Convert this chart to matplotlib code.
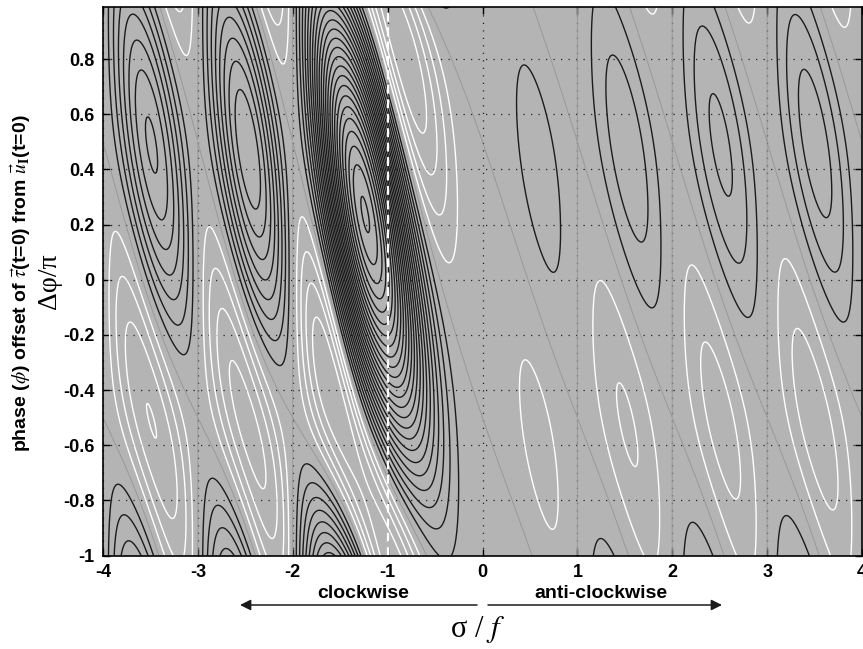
import numpy as np
import matplotlib.pyplot as plt

# axes: wind rotation frequency (units of f) and initial phase offset (units of pi)
sigma_lim = [-4, 4]
dphi_lim = [-1, 0.99]
sigma_ticks = [-4, -3, -2, -1, 0, 1, 2, 3, 4]
dphi_ticks = [-1, -0.8, -0.6, -0.4, -0.2, 0, 0.2, 0.4, 0.6, 0.8]

# model parameters: wind-driven / initial speed ratio and contour interval
speed_ratio = 0.4
contour_step = 0.2
resonance = -1.0

sigma = np.linspace(sigma_lim[0], sigma_lim[1], 1200)
dphi = np.linspace(dphi_lim[0], dphi_lim[1], 600)
S, P = np.meshgrid(sigma, dphi)

# relative energy change of the near-inertial current after one inertial period
w = -speed_ratio * S * np.sin(np.pi * S) / (S - resonance)
dE = 2 * w * np.cos(np.pi * (S + P)) + w ** 2

pos_levels = np.arange(contour_step, dE.max(), contour_step)
neg_levels = -np.arange(contour_step, -dE.min(), contour_step)[::-1]

fig = plt.figure(figsize=(8.63, 6.49), dpi=100)
ax = fig.add_axes([103 / 863, 1 - 555.5 / 649, 759 / 863, 548.8 / 649])
ax.set_facecolor('#b4b4b4')

ax.contour(S, P, dE, levels=[0], colors='#999999', linewidths=0.7)
ax.contour(S, P, dE, levels=neg_levels, colors='white', linewidths=1.0,
           linestyles='solid')
ax.contour(S, P, dE, levels=pos_levels, colors='#1c1c1c', linewidths=1.0,
           linestyles='solid')
ax.axvline(resonance, color='white', lw=1.6, ls=(0, (4, 2.5)))

ax.set_xlim(sigma_lim)
ax.set_ylim(dphi_lim)
ax.set_xticks(sigma_ticks)
ax.set_yticks(dphi_ticks)
ax.set_xticklabels([f'{v:g}' for v in sigma_ticks])
ax.set_yticklabels([f'{v:g}' for v in dphi_ticks])
ax.grid(True, color='#222222', lw=0.9, ls=(0, (1, 5)))
ax.tick_params(direction='in', length=5, width=1, top=True, right=True,
               labelsize=13, pad=6)
for lab in ax.get_xticklabels() + ax.get_yticklabels():
    lab.set_fontfamily('Liberation Sans')
    lab.set_fontweight('bold')
for sp in ax.spines.values():
    sp.set_linewidth(1.2)

plt.rcParams['mathtext.fontset'] = 'stix'

fig.text(0.024, 0.564,
         r'phase ($\phi$) offset of $\vec{\tau}$(t=0) from $\vec{u}_\mathbf{I}$(t=0)',
         rotation=90, ha='center', va='center', fontsize=14,
         fontweight='bold', family='Liberation Sans')
fig.text(0.057, 0.567, 'Δφ/π', rotation=90, ha='center',
         va='center', fontsize=20, family='Liberation Serif')
fig.text(0.553, 0.03, r'σ / $f$', ha='center', va='center',
         fontsize=22, family='Liberation Serif')

fig.text(0.421, 0.085, 'clockwise', ha='center', va='center', fontsize=14,
         fontweight='bold', family='Liberation Sans')
fig.text(0.696, 0.085, 'anti-clockwise', ha='center', va='center',
         fontsize=14, fontweight='bold', family='Liberation Sans')
arrow_y = 1 - 605 / 649
ax.annotate('', xy=(240 / 863, arrow_y), xytext=(477 / 863, arrow_y),
            xycoords='figure fraction',
            arrowprops=dict(arrowstyle='-|>', color='#1a1a1a', lw=1.1,
                            mutation_scale=16, shrinkA=0, shrinkB=0))
ax.annotate('', xy=(722 / 863, arrow_y), xytext=(488 / 863, arrow_y),
            xycoords='figure fraction',
            arrowprops=dict(arrowstyle='-|>', color='#1a1a1a', lw=1.1,
                            mutation_scale=16, shrinkA=0, shrinkB=0))

fig.savefig('out.png', dpi=100)
